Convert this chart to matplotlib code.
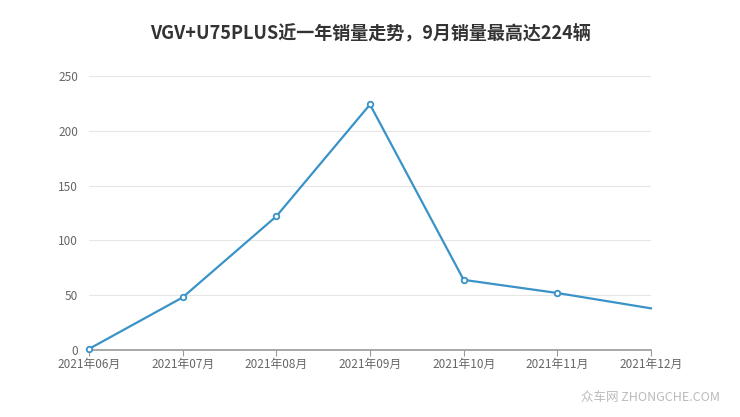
import matplotlib
matplotlib.use("Agg")
import matplotlib.pyplot as plt

plt.rcParams['font.family'] = ['Noto Sans CJK SC', 'DejaVu Sans']

months = ["2021年06月", "2021年07月", "2021年08月", "2021年09月", "2021年10月", "2021年11月", "2021年12月"]
sales = [1, 48, 122, 224, 64, 52, 38]
yticks = [0, 50, 100, 150, 200, 250]
title = "VGV+U75PLUS近一年销量走势，9月销量最高达224辆"

fig = plt.figure(figsize=(7.4, 4.17), dpi=100)
ax = fig.add_axes([89/740, 1-350/417, (651-89)/740, (350-76)/417])

x = list(range(len(months)))
ax.plot(x, sales, color='#3a93c8', lw=1.6, marker='o', ms=4, mfc='white',
        mec='#3a93c8', mew=1.3, markevery=list(range(len(months)-1)), clip_on=False, zorder=3)

ax.set_xlim(0, len(months)-1)
ax.set_ylim(0, 250)
ax.set_yticks(yticks)
ax.set_xticks(x)
ax.set_xticklabels(months)
ax.grid(axis='y', color='#e6e6e6', lw=0.8)
ax.set_axisbelow(True)
for s in ['top', 'right', 'left']:
    ax.spines[s].set_visible(False)
ax.spines['bottom'].set_color('#999999')
ax.spines['bottom'].set_linewidth(1.2)
ax.tick_params(axis='y', length=0, pad=8, labelcolor='#666666', labelsize=8.5)
ax.tick_params(axis='x', length=4, color='#999999', pad=1.5, labelcolor='#666666', labelsize=8.5)

fig.text(0.5, 1-33/417, title, ha='center', va='center', fontsize=13, fontweight='bold', color='#333333')
fig.text(720/740, 1-398/417, "众车网 ZHONGCHE.COM", ha='right', va='center', fontsize=9, color='#bbbbbb')

fig.savefig("out.png", dpi=100)
